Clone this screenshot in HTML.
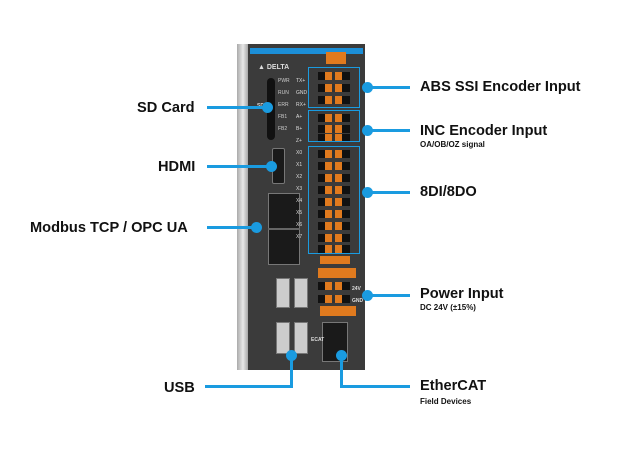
<!DOCTYPE html><html><head><style>
body{margin:0;width:620px;height:465px;background:#fff;position:relative;overflow:hidden;font-family:"Liberation Sans",sans-serif}
div{position:absolute;box-sizing:border-box}
.t{font-weight:bold;font-size:14.6px;color:#111;white-space:nowrap;line-height:16px}
.s{font-weight:bold;font-size:8px;color:#111;white-space:nowrap}
.h{height:3px;background:#1a9be0}
.v{width:3px;background:#1a9be0}
.d{width:11px;height:11px;border-radius:50%;background:#1a9be0}
.bx{border:1.5px solid #1a9be0}
.port{background:#1a1a1a;border:1px solid #777}
.lbl{font-size:5px;color:#ddd;font-weight:bold}
.row{left:318px;width:32px;height:8px;background:linear-gradient(90deg,#111 0 7px,#e07a1e 7px 14px,#333 14px 17px,#e07a1e 17px 24px,#111 24px)}
</style></head><body>
<div style="left:237px;top:44px;width:12px;height:326px;background:linear-gradient(90deg,#aaa,#e8e8e8,#999)"></div>
<div style="left:248px;top:44px;width:117px;height:326px;background:#3b3b3b"></div>
<div style="left:250px;top:48px;width:113px;height:6px;background:#1c8fd8"></div>
<div style="left:326px;top:52px;width:20px;height:12px;background:#e07a1e"></div>
<div class="lbl" style="left:258px;top:64px;font-size:7px">▲ DELTA</div>
<div style="left:267px;top:78px;width:8px;height:62px;background:#111;border-radius:4px"></div>
<div class="lbl" style="left:257px;top:103px">SD</div>
<div style="left:278px;top:75px;width:15px;height:70px;font-size:5px;color:#ccc;line-height:12px">PWR<br>RUN<br>ERR<br>FB1<br>FB2</div>
<div class="port" style="left:272px;top:148px;width:13px;height:36px;border-radius:2px"></div>
<div class="port" style="left:268px;top:193px;width:32px;height:72px"></div>
<div style="left:268px;top:228px;width:32px;height:2px;background:#666"></div>
<div style="left:296px;top:75px;width:10px;height:175px;font-size:5px;color:#ddd;line-height:12px">TX+<br>GND<br>RX+<br>A+<br>B+<br>Z+<br>X0<br>X1<br>X2<br>X3<br>X4<br>X5<br>X6<br>X7</div>
<div class="row" style="top:72px"></div><div class="row" style="top:84px"></div><div class="row" style="top:96px"></div>
<div class="row" style="top:114px"></div><div class="row" style="top:125px"></div><div class="row" style="top:134px"></div>
<div class="row" style="top:150px"></div><div class="row" style="top:162px"></div><div class="row" style="top:174px"></div><div class="row" style="top:186px"></div><div class="row" style="top:198px"></div><div class="row" style="top:210px"></div><div class="row" style="top:222px"></div><div class="row" style="top:234px"></div><div class="row" style="top:245px"></div>
<div style="left:320px;top:256px;width:30px;height:8px;background:#e07a1e"></div>
<div style="left:318px;top:268px;width:38px;height:10px;background:#e07a1e"></div>
<div class="row" style="top:282px"></div><div class="row" style="top:295px"></div>
<div style="left:320px;top:306px;width:36px;height:10px;background:#e07a1e"></div>
<div class="lbl" style="left:352px;top:286px">24V</div><div class="lbl" style="left:352px;top:298px">GND</div>
<div class="bx" style="left:308px;top:67px;width:52px;height:41px"></div>
<div class="bx" style="left:308px;top:110px;width:52px;height:32px"></div>
<div class="bx" style="left:308px;top:146px;width:52px;height:108px"></div>
<div class="port" style="left:276px;top:278px;width:14px;height:30px;background:#ccc"></div>
<div class="port" style="left:294px;top:278px;width:14px;height:30px;background:#ccc"></div>
<div class="port" style="left:276px;top:322px;width:14px;height:32px;background:#ccc"></div>
<div class="port" style="left:294px;top:322px;width:14px;height:32px;background:#ccc"></div>
<div class="port" style="left:322px;top:322px;width:26px;height:40px"></div>
<div class="lbl" style="left:311px;top:337px">ECAT</div>
<div class="h" style="left:207px;top:106px;width:60px"></div><div class="d" style="left:262px;top:102px"></div>
<div class="h" style="left:207px;top:165px;width:64px"></div><div class="d" style="left:266px;top:161px"></div>
<div class="h" style="left:207px;top:226px;width:50px"></div><div class="d" style="left:251px;top:222px"></div>
<div class="t" style="left:137px;top:100px">SD Card</div>
<div class="t" style="left:158px;top:159px">HDMI</div>
<div class="t" style="left:30px;top:220px">Modbus TCP / OPC UA</div>
<div class="t" style="left:164px;top:380px">USB</div>
<div class="d" style="left:286px;top:350px"></div><div class="v" style="left:290px;top:355px;height:32px"></div><div class="h" style="left:205px;top:385px;width:88px"></div>
<div class="d" style="left:336px;top:350px"></div><div class="v" style="left:340px;top:355px;height:32px"></div><div class="h" style="left:340px;top:385px;width:70px"></div>
<div class="d" style="left:362px;top:82px"></div><div class="h" style="left:367px;top:86px;width:43px"></div>
<div class="d" style="left:362px;top:125px"></div><div class="h" style="left:367px;top:129px;width:43px"></div>
<div class="d" style="left:362px;top:187px"></div><div class="h" style="left:367px;top:191px;width:43px"></div>
<div class="d" style="left:362px;top:290px"></div><div class="h" style="left:367px;top:294px;width:43px"></div>
<div class="t" style="left:420px;top:79px">ABS SSI Encoder Input</div>
<div class="t" style="left:420px;top:123px">INC Encoder Input</div>
<div class="s" style="left:420px;top:140px">OA/OB/OZ signal</div>
<div class="t" style="left:420px;top:184px">8DI/8DO</div>
<div class="t" style="left:420px;top:286px">Power Input</div>
<div class="s" style="left:420px;top:303px">DC 24V (±15%)</div>
<div class="t" style="left:420px;top:378px">EtherCAT</div>
<div class="s" style="left:420px;top:397px">Field Devices</div>
</body></html>
